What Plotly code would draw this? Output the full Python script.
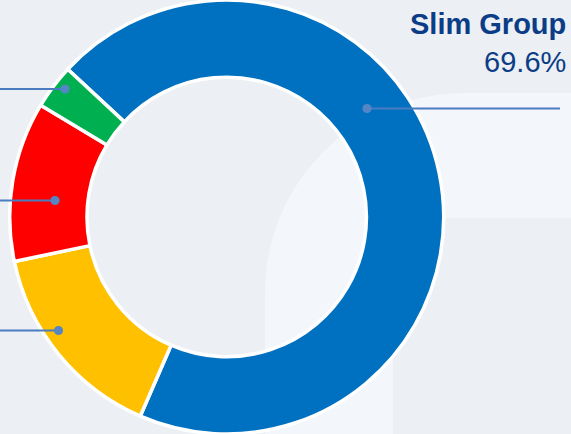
import plotly.graph_objects as go

# ---- data ----
categories = ["Slim Group", "Other A", "Other B", "Other C"]
shares = [69.6, 15.2, 11.9, 3.3]
slice_colors = ["#0070C0", "#FFC000", "#FF0000", "#00B050"]

W, H = 571, 434

fig = go.Figure()
fig.add_trace(go.Pie(
    labels=categories, values=shares, sort=False, direction="clockwise",
    rotation=-47.1, hole=0.644,
    marker=dict(colors=slice_colors, line=dict(color="white", width=3.5)),
    textinfo="none", hoverinfo="label+percent", showlegend=False,
    domain=dict(x=[9.7 / W, 443.7 / W], y=[0, 1]),
))

BG = "#ECEFF4"
LIGHT = "#F3F6FB"
shapes = []
# light background panel with rounded top-left corner (pixel coords on overlay axes)
R = 200
x0, y0 = 265, 93
k = 0.5523 * R
path = (f"M {x0},{H+5} L {x0},{y0+R} C {x0},{y0+R-k} {x0+R-k},{y0} {x0+R},{y0} "
        f"L {W+5},{y0} L {W+5},{H+5} Z")
shapes.append(dict(type="path", path=path, xref="x", yref="y", fillcolor=LIGHT,
                   line=dict(width=0), layer="below"))
shapes.append(dict(type="rect", x0=393, x1=W + 5, y0=218, y1=H + 5, xref="x", yref="y",
                   fillcolor=BG, line=dict(width=0), layer="below"))

# leader lines + dots
LINE_C = "#4A7CC0"
DOT_C = "#5585C5"
leaders = [  # (dot x, dot y, line end x)
    (367, 108.5, 560),
    (65, 89, -5),
    (55, 200.5, -5),
    (58.5, 330.5, -5),
]
for dx, dy, ex in leaders:
    shapes.append(dict(type="line", x0=dx, y0=dy, x1=ex, y1=dy, xref="x", yref="y",
                       line=dict(color=LINE_C, width=1.8), layer="above"))
    shapes.append(dict(type="circle", x0=dx - 4.6, x1=dx + 4.6, y0=dy - 4.6, y1=dy + 4.6,
                       xref="x", yref="y", fillcolor=DOT_C, line=dict(width=0), layer="above"))

fig.update_layout(
    width=W, height=H, margin=dict(l=0, r=0, t=0, b=0),
    paper_bgcolor=BG, plot_bgcolor="rgba(0,0,0,0)",
    xaxis=dict(range=[0, W], visible=False, fixedrange=True),
    yaxis=dict(range=[H, 0], visible=False, fixedrange=True),
    shapes=shapes,
    annotations=[dict(
        text=f"<b>{categories[0]}</b><br>{shares[0]}%",
        x=567.5, y=6, xref="x", yref="y", xanchor="right", yanchor="top", align="right",
        showarrow=False, font=dict(family="Liberation Sans, Arial", size=29, color="#0B3D87"),
    )],
)

fig.write_html("out.html")
